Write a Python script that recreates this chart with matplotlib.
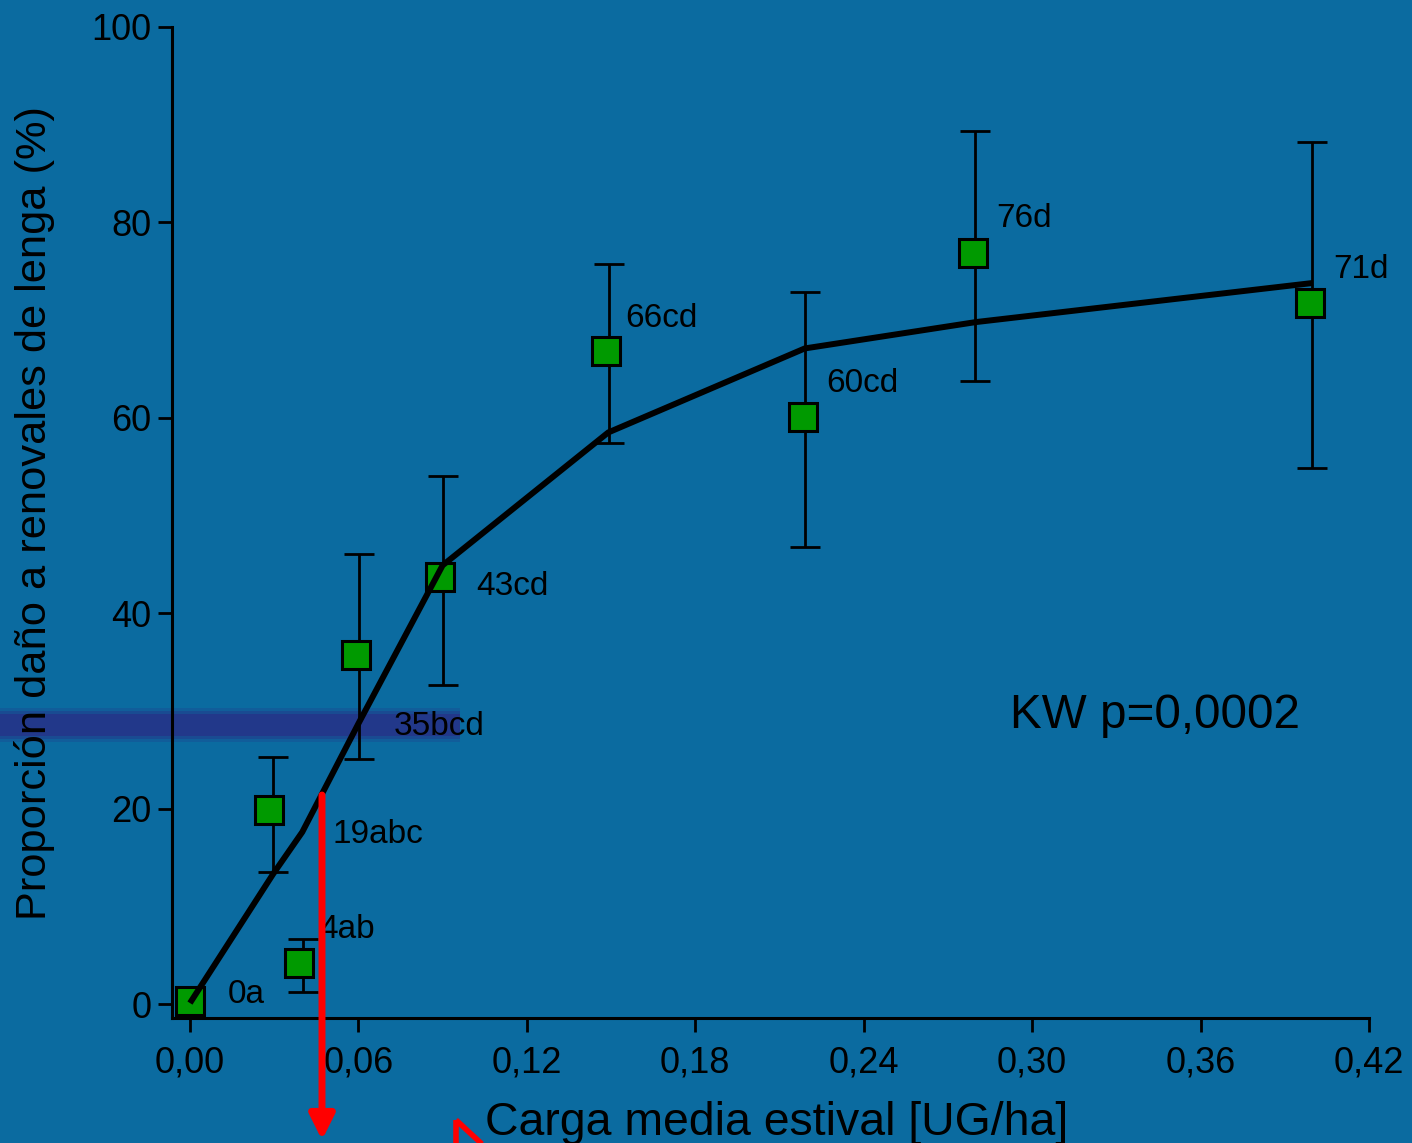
import matplotlib
matplotlib.use('Agg')
import matplotlib.pyplot as plt
from matplotlib.patches import Polygon, Rectangle
import numpy as np

plt.rcParams['font.family'] = ['Liberation Sans', 'DejaVu Sans']

# datos: carga media estival vs proporcion de dano
carga = [0.0, 0.0283, 0.039, 0.0591, 0.0889, 0.1482, 0.2184, 0.279, 0.3989]
dano = [0.3, 19.9, 4.2, 35.7, 43.7, 66.8, 60.1, 76.9, 71.7]
etiquetas = ['0a', '19abc', '4ab', '35bcd', '43cd', '66cd', '60cd', '76d', '71d']

# barras de error (sin barra para 0a)
err_x = [0.0296, 0.0403, 0.0603, 0.090, 0.1493, 0.219, 0.2797, 0.3997]
err_hi = [25.3, 6.7, 46.1, 54.0, 75.7, 72.9, 89.4, 88.2]
err_lo = [13.5, 1.2, 25.1, 32.7, 57.4, 46.75, 63.8, 54.9]

# curva ajustada
ajuste_x = [0.0, 0.0296, 0.040, 0.060, 0.090, 0.149, 0.219, 0.280, 0.400]
ajuste_y = [0.1, 13.3, 17.6, 28.7, 44.9, 58.5, 67.1, 69.8, 73.8]

x_ticks = [0.00, 0.06, 0.12, 0.18, 0.24, 0.30, 0.36, 0.42]
y_ticks = [0, 20, 40, 60, 80, 100]

# desplazamiento de etiquetas respecto al punto (pixeles)
lab_dx = [37.5, 63, 19.5, 38, 37, 19.7, 22.7, 23, 23]
lab_dy = [-1.5, -33.5, 25, -80, -18, 24, 24.5, 25.5, 25]

fondo = '#0B6BA0'
fig = plt.figure(figsize=(14.12, 11.43), dpi=100, facecolor=fondo)
ax = fig.add_axes([172/1412, 125/1143, 1197/1412, 991/1143])
ax.set_facecolor('none')

ax.plot(ajuste_x, ajuste_y, color='black', lw=4.3, zorder=4, solid_capstyle='butt')

lo = np.array(err_lo)
hi = np.array(err_hi)
ax.errorbar(err_x, (lo + hi) / 2, yerr=(hi - lo) / 2, fmt='none', ecolor='black',
            elinewidth=2, capsize=11, capthick=2, zorder=2)
ax.plot(carga, dano, 's', ms=19.5, mfc='#009A00', mec='black', mew=2.2, zorder=3, ls='none')

for x, y, t, dx, dy in zip(carga, dano, etiquetas, lab_dx, lab_dy):
    ax.annotate(t, (x, y), xytext=(dx * 0.72, dy * 0.72), textcoords='offset points',
                fontsize=24, ha='left', va='baseline', zorder=5)

ax.text(0.700, 0.2926, 'KW p=0,0002', transform=ax.transAxes, fontsize=34.3,
        ha='left', va='baseline')

ax.set_xlim(-0.0064, 0.42)
ax.set_ylim(-1.43, 100)
ax.set_xticks(x_ticks)
ax.set_xticklabels([f'{v:.2f}'.replace('.', ',') for v in x_ticks])
ax.set_yticks(y_ticks)
ax.tick_params(axis='both', labelsize=26, width=2, length=10, color='black')
ax.tick_params(axis='x', pad=10)
ax.tick_params(axis='y', pad=5)
for s in ['top', 'right']:
    ax.spines[s].set_visible(False)
for s in ['left', 'bottom']:
    ax.spines[s].set_linewidth(2.2)

fig.text(777/1412, 8/1143, 'Carga media estival [UG/ha]', fontsize=33.4,
         ha='center', va='baseline')
fig.text(35/1412, 1 - 513/1143, 'Proporción daño a renovales de lenga (%)', fontsize=31.2,
         rotation=90, ha='center', va='center')

# banda azul difusa (debajo de todo)
for h, a in [(34, 0.25), (28, 0.45), (22, 0.9)]:
    fig.patches.append(Rectangle((0, 1 - (725 + h / 2) / 1143), 460 / 1412, h / 1143,
                                 transform=fig.transFigure, facecolor='#24368A',
                                 edgecolor='none', alpha=a, zorder=-1))

# flecha roja
ax.annotate('', xy=(322, 3), xytext=(322, 1143 - 795), xycoords='figure pixels',
            textcoords='figure pixels',
            arrowprops=dict(arrowstyle='-|>,head_length=1.5,head_width=0.75',
                            color='#FF0000', lw=5, shrinkA=0, shrinkB=0), zorder=10)
# triangulo rojo
fig.patches.append(Polygon([(456 / 1412, 1 - 1120 / 1143), (510 / 1412, 1 - 1170 / 1143),
                            (456 / 1412, 1 - 1170 / 1143)], closed=True,
                           transform=fig.transFigure, facecolor='none',
                           edgecolor='#FF0000', lw=4, zorder=10))

fig.savefig('out.png', dpi=100, facecolor=fondo)
